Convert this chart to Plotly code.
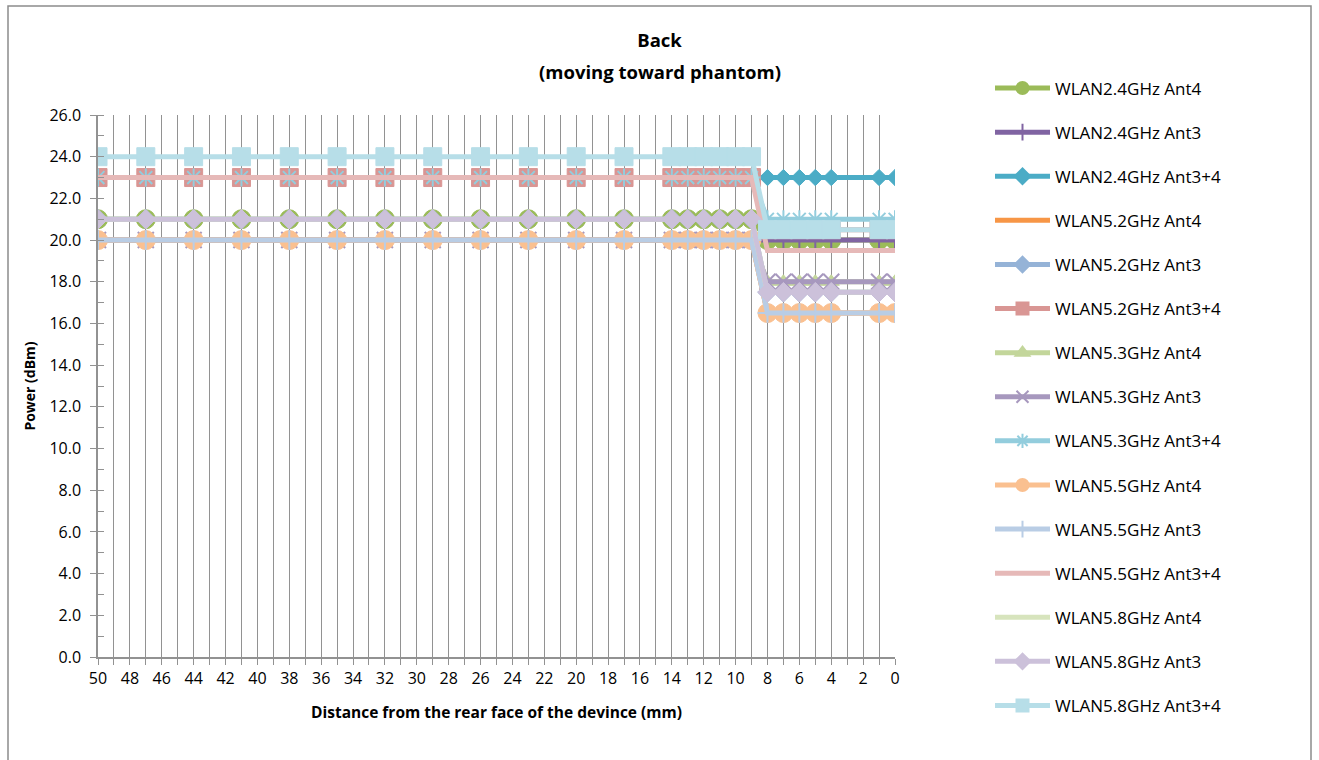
import plotly.graph_objects as go

# Distance from the rear face of the device (mm)
distance = [50, 47, 44, 41, 38, 35, 32, 29, 26, 23, 20, 17, 14, 13, 12, 11, 10, 9,
            8, 7, 6, 5, 4, 1, 0]

# Conducted power (dBm) for each band / antenna configuration
wlan24_ant4 = [21, 21, 21, 21, 21, 21, 21, 21, 21, 21, 21, 21, 21, 21, 21, 21, 21, 21,
               20, 20, 20, 20, 20, 20, 20]
wlan24_ant3 = [20, 20, 20, 20, 20, 20, 20, 20, 20, 20, 20, 20, 20, 20, 20, 20, 20, 20,
               20, 20, 20, 20, 20, 20, 20]
wlan24_ant34 = [23, 23, 23, 23, 23, 23, 23, 23, 23, 23, 23, 23, 23, 23, 23, 23, 23, 23,
                23, 23, 23, 23, 23, 23, 23]
wlan52_ant4 = [20, 20, 20, 20, 20, 20, 20, 20, 20, 20, 20, 20, 20, 20, 20, 20, 20, 20,
               16.5, 16.5, 16.5, 16.5, 16.5, 16.5, 16.5]
wlan52_ant3 = [21, 21, 21, 21, 21, 21, 21, 21, 21, 21, 21, 21, 21, 21, 21, 21, 21, 21,
               17.5, 17.5, 17.5, 17.5, 17.5, 17.5, 17.5]
wlan52_ant34 = [23, 23, 23, 23, 23, 23, 23, 23, 23, 23, 23, 23, 23, 23, 23, 23, 23, 23,
                20.5, 20.5, 20.5, 20.5, 20.5, 20.5, 20.5]
wlan53_ant4 = [20, 20, 20, 20, 20, 20, 20, 20, 20, 20, 20, 20, 20, 20, 20, 20, 20, 20,
               18, 18, 18, 18, 18, 18, 18]
wlan53_ant3 = [20, 20, 20, 20, 20, 20, 20, 20, 20, 20, 20, 20, 20, 20, 20, 20, 20, 20,
               18, 18, 18, 18, 18, 18, 18]
wlan53_ant34 = [23, 23, 23, 23, 23, 23, 23, 23, 23, 23, 23, 23, 23, 23, 23, 23, 23, 23,
                21, 21, 21, 21, 21, 21, 21]
wlan55_ant4 = [20, 20, 20, 20, 20, 20, 20, 20, 20, 20, 20, 20, 20, 20, 20, 20, 20, 20,
               16.5, 16.5, 16.5, 16.5, 16.5, 16.5, 16.5]
wlan55_ant3 = [20, 20, 20, 20, 20, 20, 20, 20, 20, 20, 20, 20, 20, 20, 20, 20, 20, 20,
               16.5, 16.5, 16.5, 16.5, 16.5, 16.5, 16.5]
wlan55_ant34 = [23, 23, 23, 23, 23, 23, 23, 23, 23, 23, 23, 23, 23, 23, 23, 23, 23, 23,
                19.5, 19.5, 19.5, 19.5, 19.5, 19.5, 19.5]
wlan58_ant4 = [21, 21, 21, 21, 21, 21, 21, 21, 21, 21, 21, 21, 21, 21, 21, 21, 21, 21,
               17.5, 17.5, 17.5, 17.5, 17.5, 17.5, 17.5]
wlan58_ant3 = [21, 21, 21, 21, 21, 21, 21, 21, 21, 21, 21, 21, 21, 21, 21, 21, 21, 21,
               17.5, 17.5, 17.5, 17.5, 17.5, 17.5, 17.5]
wlan58_ant34 = [24, 24, 24, 24, 24, 24, 24, 24, 24, 24, 24, 24, 24, 24, 24, 24, 24, 24,
                20.5, 20.5, 20.5, 20.5, 20.5, 20.5, 20.5]

x_ticks = list(range(50, -1, -2))
y_ticks = [0, 2, 4, 6, 8, 10, 12, 14, 16, 18, 20, 22, 24, 26]

FONT = "Open Sans"
GRID = "#929292"

# (name, values, colour, marker symbol, marker size)
series = [
    ("WLAN2.4GHz Ant4", wlan24_ant4, "#9BBB59", "circle", 19),
    ("WLAN2.4GHz Ant3", wlan24_ant3, "#8064A2", "cross-thin", 14),
    ("WLAN2.4GHz Ant3+4", wlan24_ant34, "#4BACC6", "diamond", 12.5),
    ("WLAN5.2GHz Ant4", wlan52_ant4, "#F79646", None, 0),
    ("WLAN5.2GHz Ant3", wlan52_ant3, "#95B3D7", "diamond", 15),
    ("WLAN5.2GHz Ant3+4", wlan52_ant34, "#D99694", "square", 18),
    ("WLAN5.3GHz Ant4", wlan53_ant4, "#C3D69B", "triangle-up", 14),
    ("WLAN5.3GHz Ant3", wlan53_ant3, "#A798BE", "x-thin", 16),
    ("WLAN5.3GHz Ant3+4", wlan53_ant34, "#93CDDD", "asterisk", 15),
    ("WLAN5.5GHz Ant4", wlan55_ant4, "#FAC090", "circle", 19),
    ("WLAN5.5GHz Ant3", wlan55_ant3, "#B9CDE5", "cross-thin", 14),
    ("WLAN5.5GHz Ant3+4", wlan55_ant34, "#E6B9B8", None, 0),
    ("WLAN5.8GHz Ant4", wlan58_ant4, "#D7E4BD", None, 0),
    ("WLAN5.8GHz Ant3", wlan58_ant3, "#CCC1DA", "diamond", 15),
    ("WLAN5.8GHz Ant3+4", wlan58_ant34, "#B7DEE8", "square", 18),
]

fig = go.Figure()
for i, (name, vals, color, symbol, size) in enumerate(series):
    thin = symbol in ("cross-thin", "x-thin", "asterisk")
    kw = dict(
        x=distance, y=vals, name=name,
        legendgroup=f"g{i}",
        line=dict(color=color, width=5),
        hoverinfo="x+y+name",
    )
    if symbol is None:
        kw["mode"] = "lines"
    else:
        kw["mode"] = "lines+markers"
        kw["marker"] = dict(
            symbol=symbol, size=size, color=color,
            line=dict(color=color, width=2 if thin else 1),
        )
    fig.add_trace(go.Scatter(**kw))

L, R, T, B = 98, 424, 115, 103
W, H = 1319, 760
pw, ph = W - L - R, H - T - B

def px_x(p):
    return (p - L) / pw

def px_y(p):
    return (H - B - p) / ph

fig.update_layout(
    width=W, height=H,
    margin=dict(l=L, r=R, t=T, b=B),
    paper_bgcolor="white", plot_bgcolor="white",
    font=dict(family=FONT, size=16, color="#000000"),
    title=dict(
        text="<b>Back</b>",
        x=0.5, xref="container", xanchor="center",
        y=1 - 41 / H, yref="container", yanchor="middle",
        font=dict(family=FONT, size=18.5, color="#000000"),
    ),
    annotations=[dict(
        text="<b>(moving toward phantom)</b>",
        xref="paper", yref="paper", x=px_x(W / 2), y=px_y(71),
        xanchor="center", yanchor="middle", showarrow=False,
        font=dict(family=FONT, size=18.5, color="#000000"),
    )],
    showlegend=True,
    legend=dict(
        x=px_x(990), xanchor="left",
        y=px_y(70.5), yanchor="top",
        font=dict(family=FONT, size=17, color="#000000"),
        itemwidth=55, itemsizing="constant",
        tracegroupgap=19, maxheight=740,
        bgcolor="rgba(0,0,0,0)",
    ),
    shapes=[dict(
        type="rect", xref="paper", yref="paper",
        x0=px_x(8), x1=px_x(1311), y0=px_y(775), y1=px_y(6),
        line=dict(color="#8C8C8C", width=1.5), fillcolor="rgba(0,0,0,0)",
        layer="below",
    )],
)

fig.update_xaxes(
    range=[50, 0], tickvals=x_ticks, ticktext=[str(v) for v in x_ticks],
    showgrid=True, gridcolor=GRID, gridwidth=1.3,
    minor=dict(dtick=1, tick0=0, showgrid=True, gridcolor=GRID, gridwidth=1.3,
               ticks="outside", ticklen=6, tickcolor=GRID),
    ticks="outside", ticklen=6, tickcolor=GRID,
    showline=True, linecolor=GRID, linewidth=1.5,
    zeroline=False, tickfont=dict(family=FONT, size=16),
    title=dict(text="<b>Distance from the rear face of the devince (mm)</b>",
               font=dict(family=FONT, size=15.5), standoff=19),
)
fig.update_yaxes(
    range=[0, 26], tickvals=y_ticks, ticktext=[f"{v:.1f}" for v in y_ticks],
    showgrid=False, zeroline=False,
    ticks="outside", ticklen=6, tickcolor=GRID,
    minor=dict(dtick=1, tick0=0, ticks="inside", ticklen=6, tickcolor=GRID),
    showline=True, linecolor=GRID, linewidth=1.5,
    tickfont=dict(family=FONT, size=16), ticklabelstandoff=6,
    title=dict(text="<b>Power (dBm)</b>", font=dict(family=FONT, size=14), standoff=10),
)

fig.write_html("out.html")
